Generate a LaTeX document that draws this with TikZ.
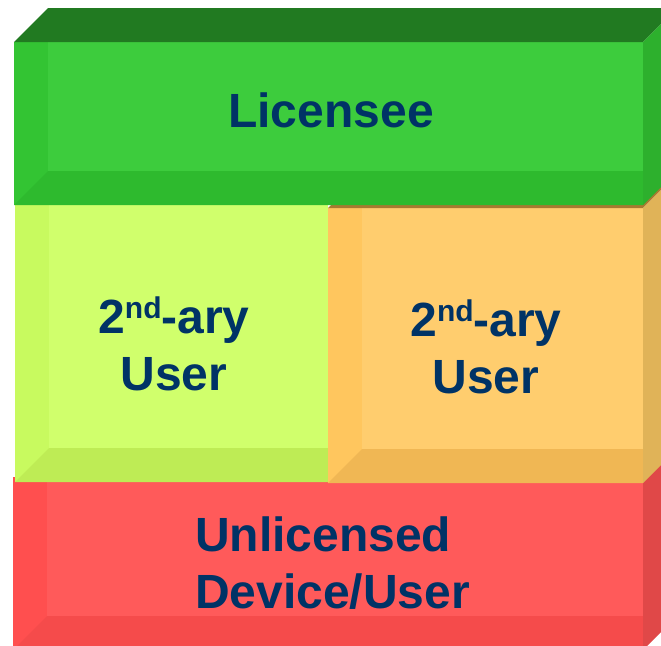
\documentclass[tikz,border=0pt]{standalone}
\usepackage{fontspec}
\setmainfont{Liberation Sans}
\definecolor{txt}{RGB}{0,51,102}
\definecolor{gbase}{HTML}{33C433}
\definecolor{ginner}{HTML}{3DCC3D}
\definecolor{gbot}{HTML}{2EBA2E}
\definecolor{gtop}{HTML}{217A21}
\definecolor{gright}{HTML}{2DB02D}
\definecolor{ybase}{HTML}{C8FA5F}
\definecolor{yinner}{HTML}{D0FF6C}
\definecolor{ybot}{HTML}{BEEC55}
\definecolor{obase}{HTML}{FFC65E}
\definecolor{oinner}{HTML}{FFCD6E}
\definecolor{obot}{HTML}{F0B754}
\definecolor{otop}{HTML}{A87A30}
\definecolor{oright}{HTML}{E0B358}
\definecolor{rbase}{HTML}{FF4F4F}
\definecolor{rinner}{HTML}{FF5A5A}
\definecolor{rbot}{HTML}{F54B4B}
\definecolor{rright}{HTML}{E04848}
\tikzset{
  label/.style={text=txt, font=\bfseries\fontsize{48}{57}\selectfont, inner sep=0pt},
}
\newcommand{\supnd}{\raisebox{15pt}{\fontsize{30}{30}\selectfont nd}}
\begin{document}
\begin{tikzpicture}[x=1pt,y=-1pt]
\clip (0,0) rectangle (661,645);
\fill[white] (0,0) rectangle (661,645);
% red box
\fill[rbase] (13,477) rectangle (643,650);
\fill[rbot] (13,650) -- (47,616) -- (643,616) -- (643,650) -- cycle;
\fill[rinner] (47,477) rectangle (643,616);
\fill[rright] (643,477) -- (677,443) -- (677,616) -- (643,650) -- cycle;
% yellow box
\fill[ybase] (15,205) rectangle (328,482);
\fill[ybot] (15,482) -- (49,448) -- (328,448) -- (328,482) -- cycle;
\fill[yinner] (49,205) rectangle (328,448);
% orange box
\fill[obase] (328,208) rectangle (643,483);
\fill[obot] (328,483) -- (362,449) -- (643,449) -- (643,483) -- cycle;
\fill[oinner] (362,208) rectangle (643,449);
\fill[otop] (328,208) -- (362,174) -- (677,174) -- (643,208) -- cycle;
\fill[oright] (643,208) -- (677,174) -- (677,449) -- (643,483) -- cycle;
% green box
\fill[gbase] (14,42) rectangle (643,205);
\fill[gbot] (14,205) -- (48,171) -- (643,171) -- (643,205) -- cycle;
\fill[ginner] (48,42) rectangle (643,171);
\fill[gtop] (14,42) -- (48,8) -- (677,8) -- (643,42) -- cycle;
\fill[gright] (643,42) -- (677,8) -- (677,171) -- (643,205) -- cycle;
% labels
\node[label, anchor=base] (lic) at (331,127) {Licensee};
\node[label, anchor=base, align=center] (sec1) at (174,390) {2\supnd-ary\\User};
\node[label, anchor=base, align=center] (sec2) at (486,393) {2\supnd-ary\\User};
\node[label, anchor=base west, align=left] (unl) at (195,608) {Unlicensed\\Device/User};
\end{tikzpicture}
\end{document}
